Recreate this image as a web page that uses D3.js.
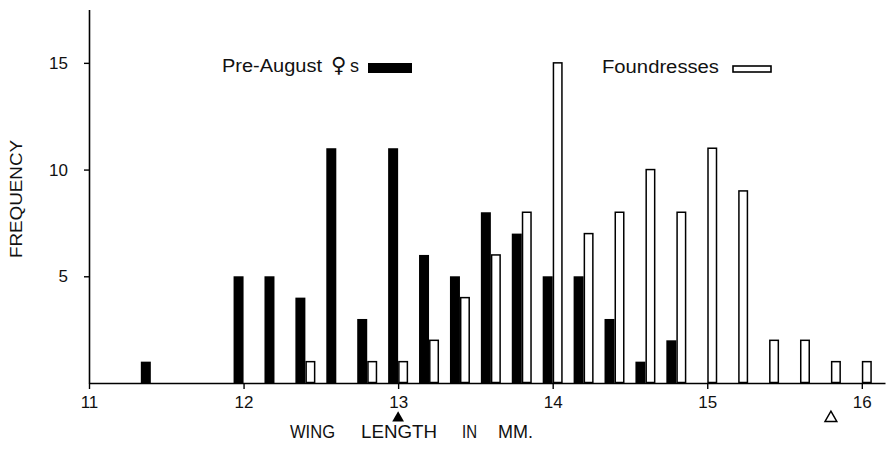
<!DOCTYPE html>
<html><head><meta charset="utf-8">
<script src="https://cdn.jsdelivr.net/npm/d3@7"></script>
<style>body{margin:0;background:#fff}svg{display:block}text{font-family:"Liberation Sans",Arial,sans-serif;fill:#111}</style>
</head><body><svg id="c" width="889" height="454"></svg>
<script>
const preAugustLengths = [11.4, 12.0, 12.2, 12.4, 12.6, 12.8, 13.0, 13.2, 13.4, 13.6, 13.8, 14.0, 14.2, 14.4, 14.6, 14.8];
const preAugustCounts  = [1, 5, 5, 4, 11, 3, 11, 6, 5, 8, 7, 5, 5, 3, 1, 2];
const foundressLengths = [12.4, 12.8, 13.0, 13.2, 13.4, 13.6, 13.8, 14.0, 14.2, 14.4, 14.6, 14.8, 15.0, 15.2, 15.4, 15.6, 15.8, 16.0];
const foundressCounts  = [1, 1, 1, 2, 4, 6, 8, 15, 7, 8, 10, 8, 11, 9, 2, 2, 1, 1];
const xTicks = [11, 12, 13, 14, 15, 16];
const yTicks = [5, 10, 15];
const markers = [{v: 13.0, filled: true}, {v: 15.8, filled: false}];
const xTitleWords = ["WING", "LENGTH", "IN", "MM."];

const svg = d3.select("#c");
const x = d3.scaleLinear().domain([11, 16.15]).range([89, 885]);
const y = d3.scaleLinear().domain([0, 17.5]).range([383, 9.5]);
const barW = 10;

// bars
svg.append("g").selectAll("rect").data(preAugustLengths.map((v,i)=>({v, c: preAugustCounts[i]})))
  .join("rect").attr("x", d => x(d.v) - barW).attr("width", barW)
  .attr("y", d => y(d.c)).attr("height", d => y(0) - y(d.c)).attr("fill", "#000");
svg.append("g").selectAll("rect").data(foundressLengths.map((v,i)=>({v, c: foundressCounts[i]})))
  .join("rect").attr("x", d => x(d.v) + 0.75).attr("width", barW - 1.5)
  .attr("y", d => y(d.c)).attr("height", d => y(0) - y(d.c) - 0.5)
  .attr("fill", "#fff").attr("stroke", "#000").attr("stroke-width", 1.5);

// axes
const xAxis = d3.axisBottom(x).tickValues(xTicks).tickSize(6).tickSizeOuter(0).tickFormat(d3.format("d")).tickPadding(7);
const gx = svg.append("g").attr("transform", `translate(0,${y(0)})`).call(xAxis);
gx.select(".domain").attr("stroke-width", 1.6);
gx.selectAll(".tick line").attr("stroke-width", 1.4);
gx.selectAll(".tick text").attr("font-size", 17).attr("fill", "#111").style("font-family", "Liberation Sans, Arial, sans-serif");

const yAxis = d3.axisLeft(y).tickValues(yTicks).tickSize(5).tickSizeOuter(0).tickPadding(16);
const gy = svg.append("g").attr("transform", `translate(${x(11)},0)`).call(yAxis);
gy.select(".domain").attr("stroke-width", 1.6);
gy.selectAll(".tick line").attr("stroke-width", 1.4);
gy.selectAll(".tick text").attr("font-size", 17).attr("fill", "#111").style("font-family", "Liberation Sans, Arial, sans-serif");

// axis titles
svg.append("text").attr("transform", "translate(22,199) rotate(-90)").attr("text-anchor", "middle")
  .attr("font-size", 17).attr("textLength", 118).attr("lengthAdjust", "spacingAndGlyphs").text("FREQUENCY");
const wordX = [290, 361, 462, 498], wordW = [45, 76, 15, 35];
svg.append("g").selectAll("text").data(xTitleWords).join("text")
  .attr("x", (d,i) => wordX[i]).attr("y", 438).attr("font-size", 19)
  .attr("textLength", (d,i) => wordW[i]).attr("lengthAdjust", "spacingAndGlyphs").text(d => d);

// markers
const tri = d3.symbol().type(d3.symbolTriangle).size(60);
svg.append("g").selectAll("path").data(markers).join("path")
  .attr("d", tri).attr("transform", d => `translate(${x(d.v)},${418})`)
  .attr("fill", d => d.filled ? "#000" : "#fff").attr("stroke", "#000").attr("stroke-width", d => d.filled ? 0 : 1.5);

// legend
svg.append("text").attr("x", 222).attr("y", 72).attr("font-size", 18).attr("textLength", 100)
  .attr("lengthAdjust", "spacingAndGlyphs").text("Pre-August");
svg.append("text").attr("x", 331).attr("y", 72).attr("font-size", 21)
  .style("font-family", "DejaVu Sans").text("\u2640");
svg.append("text").attr("x", 350).attr("y", 72).attr("font-size", 18).text("s");
svg.append("rect").attr("x", 368).attr("y", 63).attr("width", 44).attr("height", 10).attr("fill", "#000");
svg.append("text").attr("x", 602).attr("y", 73).attr("font-size", 18).attr("textLength", 117)
  .attr("lengthAdjust", "spacingAndGlyphs").text("Foundresses");
svg.append("rect").attr("x", 733).attr("y", 66).attr("width", 38).attr("height", 6)
  .attr("fill", "#fff").attr("stroke", "#000").attr("stroke-width", 1.6);
</script></body></html>
